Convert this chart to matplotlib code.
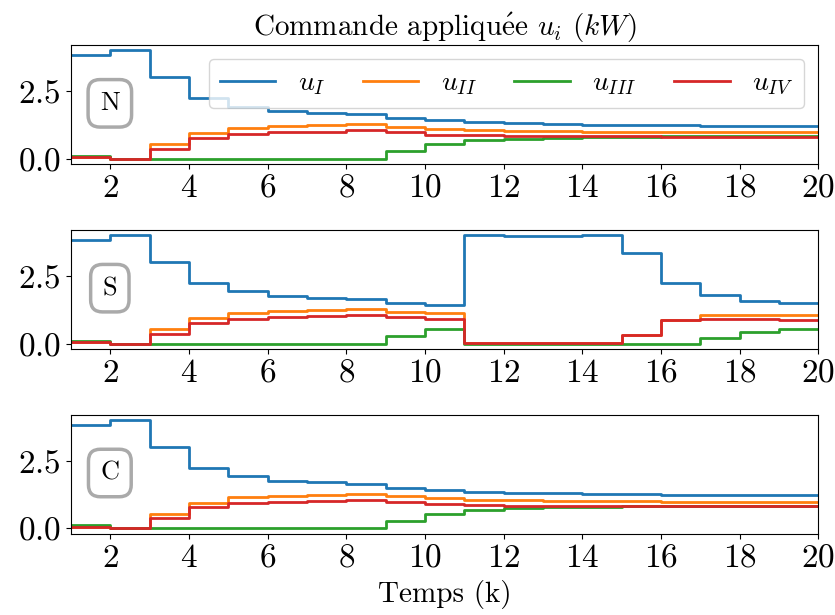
import matplotlib
matplotlib.use("Agg")
from matplotlib import pyplot as plt

plt.rcParams['font.family'] = 'serif'
plt.rcParams['font.serif'] = ['cmr10']
plt.rcParams['mathtext.fontset'] = 'cm'
plt.rcParams['axes.formatter.use_mathtext'] = True
plt.rcParams['axes.unicode_minus'] = False

k = list(range(1, 21))

# scenario N (nominal)
n_u1 = [3.86, 4.03, 3.04, 2.26, 1.94, 1.78, 1.71, 1.65, 1.51, 1.43,
        1.36, 1.32, 1.28, 1.26, 1.25, 1.24, 1.23, 1.22, 1.22, 1.22]
n_u2 = [0.06, 0.00, 0.54, 0.95, 1.15, 1.21, 1.25, 1.28, 1.19, 1.12,
        1.06, 1.04, 1.02, 1.01, 1.00, 0.99, 0.99, 0.98, 0.98, 0.98]
n_u3 = [0.11, 0.00, 0.00, 0.00, 0.00, 0.00, 0.00, 0.00, 0.27, 0.55,
        0.69, 0.74, 0.78, 0.80, 0.82, 0.83, 0.84, 0.84, 0.85, 0.85]
n_u4 = [0.06, 0.00, 0.37, 0.78, 0.93, 0.99, 1.01, 1.06, 0.98, 0.90,
        0.88, 0.85, 0.84, 0.83, 0.83, 0.82, 0.82, 0.82, 0.82, 0.82]

# scenario S
s_u1 = [3.86, 4.03, 3.04, 2.26, 1.94, 1.78, 1.71, 1.65, 1.51, 1.43,
        4.03, 3.98, 3.98, 4.03, 3.38, 2.26, 1.80, 1.58, 1.49, 1.49]
s_u2 = [0.06, 0.00, 0.54, 0.95, 1.15, 1.21, 1.25, 1.28, 1.19, 1.12,
        0.01, 0.01, 0.01, 0.01, 0.31, 0.88, 1.05, 1.06, 1.05, 1.05]
s_u3 = [0.11, 0.00, 0.00, 0.00, 0.00, 0.00, 0.00, 0.00, 0.27, 0.55,
        0.00, 0.00, 0.00, 0.00, 0.00, 0.00, 0.20, 0.42, 0.55, 0.55]
s_u4 = [0.06, 0.00, 0.37, 0.78, 0.93, 0.99, 1.01, 1.06, 0.98, 0.90,
        0.01, 0.01, 0.01, 0.01, 0.31, 0.86, 0.93, 0.93, 0.88, 0.88]

# scenario C
c_u1 = [3.86, 4.03, 3.04, 2.26, 1.94, 1.78, 1.71, 1.65, 1.51, 1.44,
        1.36, 1.33, 1.30, 1.28, 1.27, 1.26, 1.25, 1.24, 1.24, 1.23]
c_u2 = [0.06, 0.00, 0.54, 0.95, 1.15, 1.21, 1.25, 1.28, 1.19, 1.12,
        1.06, 1.04, 1.02, 1.01, 1.00, 0.99, 0.99, 0.98, 0.98, 0.98]
c_u3 = [0.11, 0.00, 0.00, 0.00, 0.00, 0.00, 0.00, 0.00, 0.27, 0.55,
        0.69, 0.74, 0.78, 0.80, 0.82, 0.83, 0.84, 0.84, 0.85, 0.85]
c_u4 = [0.06, 0.00, 0.37, 0.78, 0.93, 0.99, 1.01, 1.06, 0.98, 0.90,
        0.88, 0.85, 0.84, 0.83, 0.83, 0.82, 0.82, 0.82, 0.82, 0.82]

scenarios = [("N", [n_u1, n_u2, n_u3, n_u4]),
             ("S", [s_u1, s_u2, s_u3, s_u4]),
             ("C", [c_u1, c_u2, c_u3, c_u4])]
labels = [r"$u_I$", r"$u_{II}$", r"$u_{III}$", r"$u_{IV}$"]
colors = ["#1f77b4", "#ff7f0e", "#2ca02c", "#d62728"]

fig, axes = plt.subplots(3, 1, figsize=(8.35, 6.15), dpi=100)
fig.subplots_adjust(left=0.085, right=0.98, top=0.927, bottom=0.132, hspace=0.55)

for ax, (name, series) in zip(axes, scenarios):
    for u, lab, col in zip(series, labels, colors):
        ax.step(k, u, where='post', color=col, linewidth=2, label=lab)
    ax.set_xlim(1, 20)
    ax.set_xticks([2, 4, 6, 8, 10, 12, 14, 16, 18, 20])
    ax.set_yticks([0.0, 2.5])
    ax.tick_params(labelsize=24)
    ax.text(0.052, 0.51, name, transform=ax.transAxes, fontsize=19,
            ha='center', va='center',
            bbox=dict(boxstyle='round,pad=0.45', facecolor='white',
                      edgecolor='#aaaaaa', linewidth=2.5))

axes[0].set_title(r"Commande appliqu$\mathrm{\acute{e}}$e $u_i$ ($kW$)", fontsize=21)
axes[0].legend(ncol=4, loc='upper right', fontsize=20, borderaxespad=0.5,
               columnspacing=1.35)
axes[2].set_xlabel("Temps (k)", fontsize=21, labelpad=5)

fig.savefig("out.png")
